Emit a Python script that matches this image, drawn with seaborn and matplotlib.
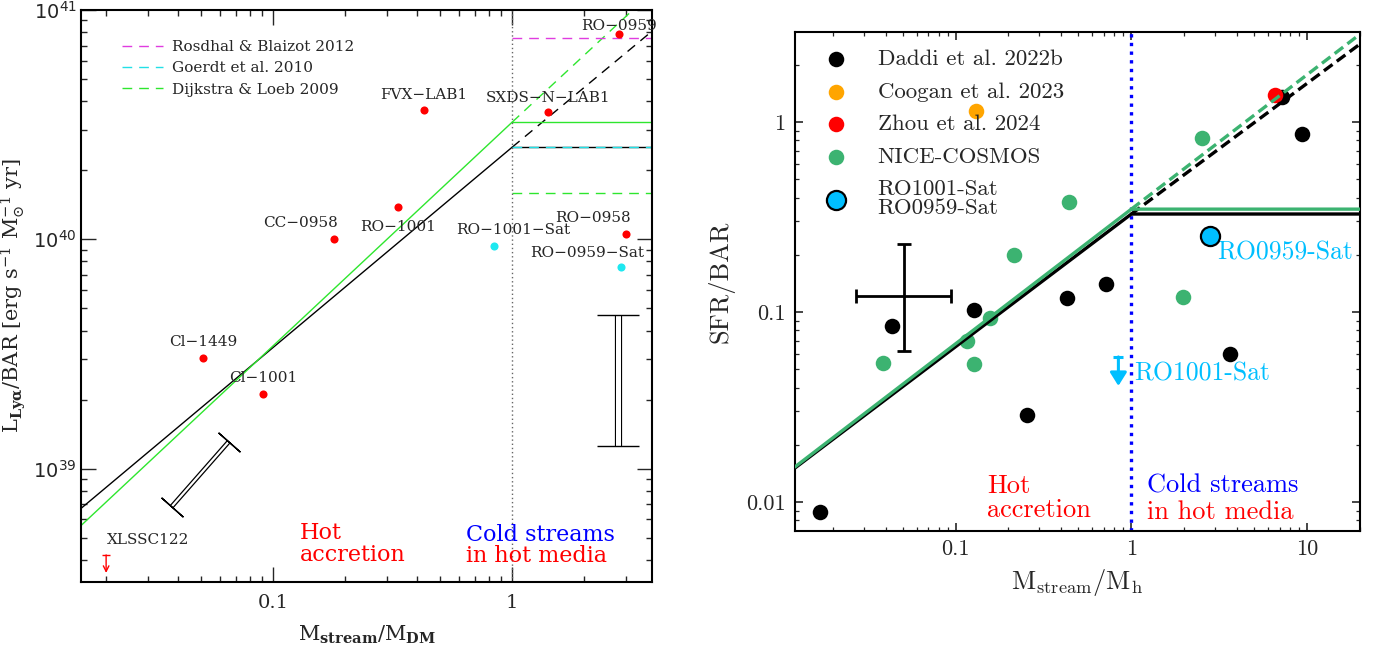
import numpy as np
import matplotlib
matplotlib.use('Agg')
import matplotlib.pyplot as plt
import matplotlib.ticker as mticker
import matplotlib.patheffects as pe
import seaborn as sns

# ================= DATA: left panel (L_Lya / BAR) =================
lya_names = ['CC-0958', 'RO-1001', 'FVX-LAB1', 'SXDS-N-LAB1', 'RO-0959', 'RO-0958', 'Cl-1449', 'Cl-1001']
lya_x = [0.18, 0.333, 0.428, 1.41, 2.80, 3.00, 0.051, 0.091]
lya_y = [1.0e40, 1.38e40, 3.66e40, 3.60e40, 7.86e40, 1.05e40, 3.05e39, 2.12e39]
lya_sat_names = ['RO-1001-Sat', 'RO-0959-Sat']
lya_sat_x = [0.84, 2.85]
lya_sat_y = [9.3e39, 7.55e39]
xlssc_name = 'XLSSC122'
xlssc_x = [0.02]
xlssc_ylim = [4.2e38]

# model lines (left)
mod_x = [0.0157, 1.0]
mod_black_y = [6.7e38, 2.52e40]
ext_black_x = [1.0, 3.75]
ext_black_y = [2.52e40, 7.9e40]
mod_green_y = [5.64e38, 3.24e40]
ext_green_x = [1.0, 3.2]
ext_green_y = [3.24e40, 1.0e41]
plateau_x = [1.0, 3.85]
plateau_black = 2.52e40
plateau_green = 3.24e40
rosdahl_level = 7.55e40
goerdt_level = 2.52e40
dijkstra_level = 1.59e40
lit_labels = ['Rosdhal & Blaizot 2012', 'Goerdt et al. 2010', 'Dijkstra & Loeb 2009']

# uncertainty symbols (left)
diag_err_x = [0.0376, 0.0652]
diag_err_y = [6.82e38, 1.31e39]
vert_err_x = [2.78, 2.78]
vert_err_y = [1.26e39, 4.66e39]

left_xticks = [0.1, 1]
left_xticklabels = ['0.1', '1']
left_yticks = [1e39, 1e40, 1e41]
left_yticklabels = [r'$10^{39}$', r'$10^{40}$', r'$10^{41}$']

# ================= DATA: right panel (SFR / BAR) =================
daddi_x = [0.0169, 0.0433, 0.128, 0.256, 0.433, 0.72, 7.21, 9.37, 3.65]
daddi_y = [0.00886, 0.0844, 0.1025, 0.0287, 0.119, 0.140, 1.35, 0.865, 0.0601]
coogan_x = [0.131]
coogan_y = [1.14]
zhou_x = [6.58]
zhou_y = [1.39]
nice_x = [0.0385, 0.1155, 0.1265, 0.156, 0.214, 0.444, 2.53, 1.97]
nice_y = [0.054, 0.0703, 0.0532, 0.093, 0.200, 0.379, 0.824, 0.120]
sat959_x = [2.81]
sat959_y = [0.251]
sat1001_x = [0.844]
sat1001_ylim = [0.058]
series_labels = ['Daddi et al. 2022b', 'Coogan et al. 2023', 'Zhou et al. 2024',
                 'NICE-COSMOS', 'RO1001-Sat\nRO0959-Sat']

r_mod_x = [0.0122, 1.0, 20.0]
r_black_y = [0.0151, 0.328, 0.328]
r_green_y = [0.0153, 0.348, 0.348]
r_ext_x = [1.0, 19.6]
r_ext_black_y = [0.328, 2.54]
r_ext_green_y = [0.348, 2.86]

cross_x = [0.0507]
cross_y = [0.121]
cross_xerr = [[0.0507 - 0.027], [0.0937 - 0.0507]]
cross_yerr = [[0.121 - 0.0624], [0.228 - 0.121]]

right_xticks = [0.1, 1, 10]
right_xticklabels = ['0.1', '1', '10']
right_yticks = [0.01, 0.1, 1]
right_yticklabels = ['0.01', '0.1', '1']

# ================= STYLE =================
sns.set_style('ticks')
plt.rcParams.update({
    'font.family': ['DejaVu Serif', 'DejaVu Sans'],
    'axes.linewidth': 1.5,
    'xtick.direction': 'in', 'ytick.direction': 'in',
    'xtick.top': True, 'ytick.right': True,
    'axes.unicode_minus': True,
})

fig = plt.figure(figsize=(13.79, 6.53), dpi=100)
W, H = 1379, 653
axL = fig.add_axes([81 / W, 1 - 582 / H, 571 / W, 572 / H])
axR = fig.add_axes([795 / W, 1 - 531 / H, 565 / W, 499 / H])

for ax in (axL, axR):
    ax.set_xscale('log')
    ax.set_yscale('log')
    for s in ax.spines.values():
        s.set_visible(True)
        s.set_color('black')

# ---------------- LEFT PANEL ----------------
axL.set_xlim(0.0157, 3.85)
axL.set_ylim(3.2e38, 1e41)
green = '#2ee62e'
magenta = '#e03ce0'
cyan = '#22e0e6'
dash = (0, (7, 5))
lw = 1.0

sns.lineplot(x=mod_x, y=mod_black_y, ax=axL, color='black', lw=lw, estimator=None, sort=False)
sns.lineplot(x=ext_black_x, y=ext_black_y, ax=axL, color='black', lw=lw, linestyle=dash, estimator=None, sort=False)
sns.lineplot(x=mod_x, y=mod_green_y, ax=axL, color=green, lw=lw, estimator=None, sort=False)
sns.lineplot(x=ext_green_x, y=ext_green_y, ax=axL, color=green, lw=lw, linestyle=dash, estimator=None, sort=False)
sns.lineplot(x=plateau_x, y=[plateau_black] * 2, ax=axL, color='black', lw=lw, estimator=None, sort=False)
sns.lineplot(x=plateau_x, y=[plateau_green] * 2, ax=axL, color=green, lw=lw, estimator=None, sort=False)
sns.lineplot(x=plateau_x, y=[rosdahl_level] * 2, ax=axL, color=magenta, lw=lw, linestyle=dash,
             estimator=None, sort=False, label=lit_labels[0])
sns.lineplot(x=plateau_x, y=[goerdt_level] * 2, ax=axL, color=cyan, lw=lw, linestyle=dash,
             estimator=None, sort=False, label=lit_labels[1])
sns.lineplot(x=plateau_x, y=[dijkstra_level] * 2, ax=axL, color=green, lw=lw, linestyle=dash,
             estimator=None, sort=False, label=lit_labels[2])
axL.axvline(1.0, color='0.4', lw=1.0, ls=(0, (1, 2)))

sns.scatterplot(x=lya_x, y=lya_y, ax=axL, color='red', s=34, linewidth=0, zorder=5)
sns.scatterplot(x=lya_sat_x, y=lya_sat_y, ax=axL, color='#1ee8f0', s=34, linewidth=0, zorder=5)

# XLSSC122 upper limit
arrow_len = 10 ** (18 / 229)
axL.annotate('', xy=(xlssc_x[0], xlssc_ylim[0] / arrow_len), xytext=(xlssc_x[0], xlssc_ylim[0]),
             arrowprops=dict(arrowstyle='->', color='red', lw=1.0, shrinkA=0, shrinkB=0,
                             mutation_scale=10))
axL.plot(xlssc_x, xlssc_ylim, marker='_', ms=6, mew=1.0, color='red', ls='none')

label_off = {'CC-0958': (-24, 12), 'RO-1001': (0, -14), 'FVX-LAB1': (0, 11),
             'SXDS-N-LAB1': (0, 10), 'RO-0959': (0, 6), 'RO-0958': (-24, 12),
             'Cl-1449': (0, 11), 'Cl-1001': (0, 11),
             'RO-1001-Sat': (14, 12), 'RO-0959-Sat': (-24, 10), 'XLSSC122': (30, 11)}
for n, x, y in zip(lya_names + lya_sat_names + [xlssc_name],
                   lya_x + lya_sat_x + xlssc_x, lya_y + lya_sat_y + xlssc_ylim):
    axL.annotate(n.replace('-', '\u2212'), (x, y), xytext=label_off[n], textcoords='offset points',
                 ha='center', va='center', fontsize=11, family='DejaVu Serif', zorder=6)

# double-line uncertainty symbols
dbl = [pe.Stroke(linewidth=3.4, foreground='black'), pe.Normal()]
axL.plot(diag_err_x, diag_err_y, color='white', lw=1.6, solid_capstyle='butt', path_effects=dbl)
axL.plot(diag_err_x, diag_err_y, ls='none', marker=(2, 2, 48.5), ms=21, mew=1.0, color='black')
dbl2 = [pe.Stroke(linewidth=5.2, foreground='black'), pe.Normal()]
axL.plot(vert_err_x, vert_err_y, color='white', lw=3.6, solid_capstyle='butt', path_effects=dbl2)
axL.plot(vert_err_x, vert_err_y, ls='none', marker='_', ms=30, mew=1.0, color='black')

axL.text((300 - 81) / 571, (582 - 544) / 572, 'Hot\naccretion', transform=axL.transAxes,
         color='red', fontsize=16, va='center', ha='left', linespacing=0.95)
axL.text((466 - 81) / 571, (582 - 535) / 572, 'Cold streams', transform=axL.transAxes,
         color='blue', fontsize=16, va='center', ha='left')
axL.text((466 - 81) / 571, (582 - 556) / 572, 'in hot media', transform=axL.transAxes,
         color='red', fontsize=16, va='center', ha='left')

legL = axL.legend(loc='upper left', bbox_to_anchor=(41 / 571, 1 - 30 / 572), borderaxespad=0,
                  borderpad=0, frameon=False, fontsize=11, handlelength=2.7, handletextpad=0.6,
                  labelspacing=0.48)

axL.xaxis.set_major_locator(mticker.FixedLocator(left_xticks))
axL.xaxis.set_major_formatter(mticker.FixedFormatter(left_xticklabels))
axL.xaxis.set_minor_locator(mticker.LogLocator(base=10, subs=np.arange(2, 10), numticks=20))
axL.xaxis.set_minor_formatter(mticker.NullFormatter())
axL.yaxis.set_major_locator(mticker.FixedLocator(left_yticks))
axL.yaxis.set_major_formatter(mticker.FixedFormatter(left_yticklabels))
axL.yaxis.set_minor_locator(mticker.LogLocator(base=10, subs=np.arange(2, 10), numticks=20))
axL.yaxis.set_minor_formatter(mticker.NullFormatter())
axL.tick_params(which='major', length=11, width=1.0, labelsize=14, top=True, right=True)
axL.tick_params(which='minor', length=4.5, width=1.0, top=True, right=True)
axL.tick_params(axis='x', which='major', pad=9)
axL.tick_params(axis='y', which='major', pad=3)
for t in axL.get_yticklabels():
    t.set_math_fontfamily('dejavusans')

axL.set_xlabel(r'$\mathrm{M}_{\mathbf{stream}}/\mathrm{M}_{\mathbf{DM}}$', fontsize=15, labelpad=8,
               math_fontfamily='dejavuserif')
axL.set_ylabel(r'$\mathrm{L}_{\mathbf{Ly\alpha}}/\mathrm{BAR}\ [\mathrm{erg\ s^{-1}\ M_{\odot}^{-1}\ yr}]$',
               fontsize=15, labelpad=4, math_fontfamily='dejavuserif')

# ---------------- RIGHT PANEL ----------------
axR.set_xlim(0.0122, 20)
axR.set_ylim(0.00703, 2.98)
cm = 'cmr10'
sgreen = 'mediumseagreen'

axR.axvline(1.0, color='blue', lw=2.4, ls=(0, (1, 1.6)), zorder=1)

sns.scatterplot(x=daddi_x, y=daddi_y, ax=axR, color='black', s=125, linewidth=0, zorder=3,
                label=series_labels[0])
sns.scatterplot(x=coogan_x, y=coogan_y, ax=axR, color='orange', s=125, linewidth=0, zorder=3,
                label=series_labels[1])
sns.scatterplot(x=zhou_x, y=zhou_y, ax=axR, color='red', s=125, linewidth=0, zorder=3,
                label=series_labels[2])
sns.scatterplot(x=nice_x, y=nice_y, ax=axR, color=sgreen, s=125, linewidth=0, zorder=3,
                label=series_labels[3])
sns.scatterplot(x=sat959_x, y=sat959_y, ax=axR, color='deepskyblue', s=190, linewidth=1.6,
                edgecolor='black', zorder=4, label=series_labels[4])

sns.lineplot(x=r_mod_x, y=r_black_y, ax=axR, color='black', lw=2.4, estimator=None, sort=False, zorder=5)
sns.lineplot(x=r_ext_x, y=r_ext_black_y, ax=axR, color='black', lw=2.4, linestyle=(0, (3.2, 1.6)),
             estimator=None, sort=False, zorder=5)
sns.lineplot(x=r_mod_x, y=r_green_y, ax=axR, color=sgreen, lw=2.4, estimator=None, sort=False, zorder=5)
sns.lineplot(x=r_ext_x, y=r_ext_green_y, ax=axR, color=sgreen, lw=2.4, linestyle=(0, (3.2, 1.6)),
             estimator=None, sort=False, zorder=5)

axR.errorbar(cross_x, cross_y, xerr=cross_xerr, yerr=cross_yerr, fmt='none', ecolor='black',
             elinewidth=2.0, capsize=5, capthick=2.0, zorder=4)

# RO1001-Sat upper limit
arr_len_r = 10 ** (29 / 190)
axR.annotate('', xy=(sat1001_x[0], sat1001_ylim[0] / arr_len_r), xytext=(sat1001_x[0], sat1001_ylim[0]),
             arrowprops=dict(arrowstyle='-|>,head_width=0.5,head_length=0.8', color='deepskyblue',
                             lw=2.2, shrinkA=0, shrinkB=0, mutation_scale=10))
axR.plot(sat1001_x, sat1001_ylim, marker='_', ms=7, mew=2.2, color='deepskyblue', ls='none')

axR.annotate('RO0959-Sat', (sat959_x[0], sat959_y[0]), xytext=(5, -12), textcoords='offset points',
             ha='left', va='center', color='deepskyblue', fontsize=18.5, family=cm)
axR.annotate('RO1001-Sat', (sat1001_x[0], sat1001_ylim[0]), xytext=(11, -12), textcoords='offset points',
             ha='left', va='center', color='deepskyblue', fontsize=18.5, family=cm)

axR.text((987 - 795) / 565, (531 - 498) / 499, 'Hot\naccretion', transform=axR.transAxes,
         color='red', fontsize=19, va='center', ha='left', family=cm, linespacing=1.0)
axR.text((1147 - 795) / 565, (531 - 486) / 499, 'Cold streams', transform=axR.transAxes,
         color='blue', fontsize=19, va='center', ha='left', family=cm)
axR.text((1147 - 795) / 565, (531 - 512) / 499, 'in hot media', transform=axR.transAxes,
         color='red', fontsize=19, va='center', ha='left', family=cm)

legR = axR.legend(loc='upper left', bbox_to_anchor=(30 / 565, 1 - 17 / 499), borderaxespad=0,
                  borderpad=0, frameon=False, prop={'family': cm, 'size': 16.5}, handlelength=1.0,
                  handletextpad=1.3, labelspacing=0.55)
for t in legR.get_texts():
    t.set_linespacing(0.95)

axR.xaxis.set_major_locator(mticker.FixedLocator(right_xticks))
axR.xaxis.set_major_formatter(mticker.FixedFormatter(right_xticklabels))
axR.xaxis.set_minor_locator(mticker.LogLocator(base=10, subs=np.arange(2, 10), numticks=20))
axR.xaxis.set_minor_formatter(mticker.NullFormatter())
axR.yaxis.set_major_locator(mticker.FixedLocator(right_yticks))
axR.yaxis.set_major_formatter(mticker.FixedFormatter(right_yticklabels))
axR.yaxis.set_minor_locator(mticker.LogLocator(base=10, subs=np.arange(2, 10), numticks=20))
axR.yaxis.set_minor_formatter(mticker.NullFormatter())
axR.tick_params(which='major', length=6, width=1.2, labelsize=16, top=True, right=True)
axR.tick_params(which='minor', length=3.2, width=0.9, top=True, right=True)
axR.tick_params(axis='x', which='major', pad=6)
axR.tick_params(axis='y', which='major', pad=7)
for t in axR.get_xticklabels() + axR.get_yticklabels():
    t.set_fontfamily(cm)

axR.set_xlabel(r'$\mathrm{M_{stream}/M_h}$', fontsize=19, math_fontfamily='cm', labelpad=6)
axR.set_ylabel('SFR/BAR', fontsize=19, family=cm, labelpad=8)

fig.savefig('out.png', dpi=100)
